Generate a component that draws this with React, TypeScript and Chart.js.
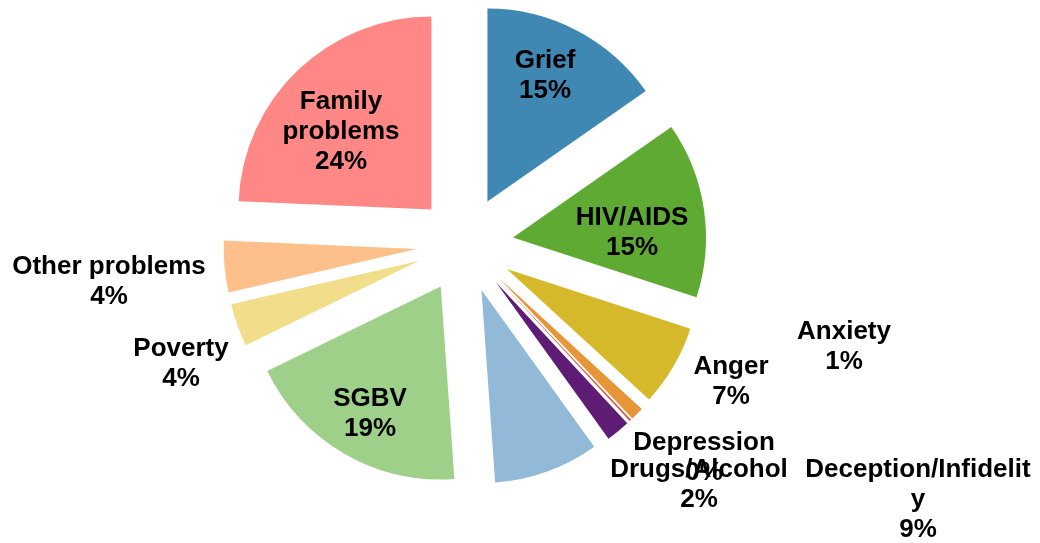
import React, { useEffect, useRef } from "react";
import { Chart, registerables } from "chart.js";

Chart.register(...registerables);

// ---- Data ----
const categories = [
  "Grief",
  "HIV/AIDS",
  "Anger",
  "Anxiety",
  "Depression",
  "Drugs/Alcohol",
  "Deception/Infidelity",
  "SGBV",
  "Poverty",
  "Other problems",
  "Family problems",
];
const values = [15.3, 14.7, 6.8, 1.1, 0.15, 2.0, 8.8, 18.9, 3.6, 4.3, 24.3];
const labelLines = [
  ["Grief"],
  ["HIV/AIDS"],
  ["Anger"],
  ["Anxiety"],
  ["Depression"],
  ["Drugs/Alcohol"],
  ["Deception/Infidelit", "y"],
  ["SGBV"],
  ["Poverty"],
  ["Other problems"],
  ["Family", "problems"],
];

// ---- Styles / layout ----
const colors = [
  "#3F88B4",
  "#5EAA32",
  "#D6B92A",
  "#E69537",
  "#E4503E",
  "#5E1C74",
  "#93B9D9",
  "#9FD08A",
  "#F2DD8B",
  "#FEC08B",
  "#FF8886",
];
// label block centres relative to the pie centre (px)
const labelOffsets = [
  [80, -170.5],
  [167, -13.5],
  [266, 135.5],
  [379, 100.5],
  [239, 211.5],
  [234, 238],
  [453, 253],
  [-95, 167.5],
  [-284, 117.5],
  [-356, 35.5],
  [-124, -114.5],
];
const EXPLODE = 48.5;
const RADIUS = 193;
const FONT_SIZE = 26;
const LINE_H = 30;

const explodePlugin = {
  id: "explode",
  beforeDatasetsDraw(chart: any) {
    const { chartArea } = chart;
    const cx = (chartArea.left + chartArea.right) / 2;
    const cy = (chartArea.top + chartArea.bottom) / 2;
    const meta = chart.getDatasetMeta(0);
    meta.data.forEach((arc: any) => {
      const mid = (arc.startAngle + arc.endAngle) / 2;
      arc.x = cx + Math.cos(mid) * EXPLODE;
      arc.y = cy + Math.sin(mid) * EXPLODE;
    });
  },
};

const labelPlugin = {
  id: "sliceLabels",
  afterDatasetsDraw(chart: any) {
    const { ctx, chartArea } = chart;
    const cx = (chartArea.left + chartArea.right) / 2;
    const cy = (chartArea.top + chartArea.bottom) / 2;
    const total = values.reduce((a, b) => a + b, 0);
    ctx.save();
    ctx.fillStyle = "#000000";
    ctx.font = `bold ${FONT_SIZE}px "Liberation Sans", Arial, sans-serif`;
    ctx.textAlign = "center";
    ctx.textBaseline = "alphabetic";
    const capHalf = FONT_SIZE * 0.716 / 2;
    values.forEach((v, i) => {
      const lines = [...labelLines[i], Math.round((v / total) * 100) + "%"];
      const [dx, dy] = labelOffsets[i];
      const bx = cx + dx;
      const by = cy + dy;
      const first = by - ((lines.length - 1) * LINE_H) / 2;
      lines.forEach((t, k) => {
        ctx.fillText(t, bx, first + k * LINE_H + capHalf);
      });
    });
    ctx.restore();
  },
};

export default function App() {
  const ref = useRef<HTMLCanvasElement | null>(null);
  useEffect(() => {
    if (!ref.current) return;
    const chart = new Chart(ref.current, {
      type: "pie",
      data: {
        labels: categories,
        datasets: [
          {
            data: values,
            backgroundColor: colors,
            borderWidth: 0,
          },
        ],
      },
      options: {
        responsive: false,
        animation: false,
        radius: RADIUS,
        layout: { padding: { left: 0, top: 0, right: 110, bottom: 54 } },
        plugins: {
          legend: { display: false },
          tooltip: { enabled: false },
        },
      } as any,
      plugins: [explodePlugin, labelPlugin],
    });
    return () => chart.destroy();
  }, []);
  return (
    <div style={{ position: "fixed", left: 0, top: 0, width: 1040, height: 543, background: "#ffffff" }}>
      <canvas ref={ref} width={1040} height={543} style={{ display: "block" }} />
    </div>
  );
}
